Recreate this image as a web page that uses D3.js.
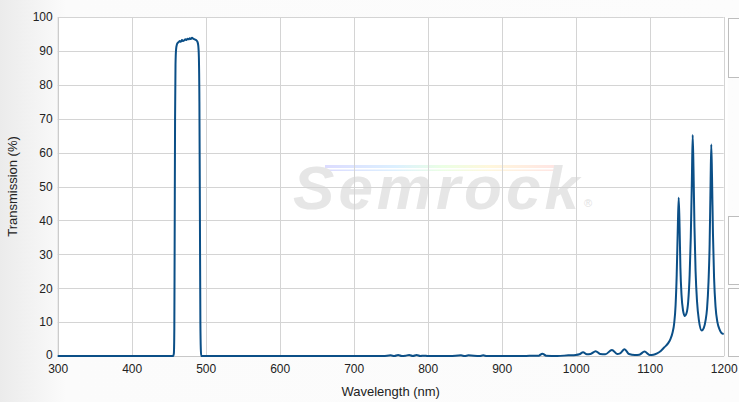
<!DOCTYPE html>
<html>
<head>
<meta charset="utf-8">
<script src="https://cdn.jsdelivr.net/npm/d3@7"></script>
<style>
html,body{margin:0;padding:0;background:#fff;}
svg{display:block;font-family:"Liberation Sans",Arial,sans-serif;}
</style>
</head>
<body>
<svg id="chart" width="739" height="402"></svg>
<script>
// ---- data ----
const xTicks = [300,400,500,600,700,800,900,1000,1100,1200];
const yTicks = [0,10,20,30,40,50,60,70,80,90,100];
const xTitle = "Wavelength (nm)";
const yTitle = "Transmission (%)";

const wavelength = [
  300,400,450,456,457,457.6,458,458.6,459.2,460,461,462,463.5,465,466.5,468,469.5,471,472.5,474,475.5,477,478.5,480,481.5,483,484.5,486,487.5,489,490,490.8,491.5,492.2,492.8,493.4,494,500,
  600,700,740,750,755,760,765,770,775,780,785,790,795,800,830,845,850,855,870,875,880,900,930,945,950,955,960,975,990,
  1000,1005,1010,1015,1020,1027,1033,1040,1049,1056,1060,1066,1072,1080,1086,1093,1100,1105,1110,1115,1120,1125,1128,
  1131,1133,1135,1136.5,1138,1139.2,1140.4,1141.5,1143,1145,1147.5,1150,1152,1154,1155.5,1157,1158.1,1159.2,1160.5,1162,1164,1166.5,1170.3,1173,1175.5,1177.5,1179.5,1181,1182.2,1183.2,1184.2,1185.5,1187,1189,1191.5,1194.5,1197,1200
];
const transmission = [
  0,0,0,0,0.8,8,30,70,86,90.5,91.8,92.3,92.6,92.9,92.7,93.2,92.9,93.1,93.4,93.2,93.6,93.4,93.7,93.5,93.9,93.6,93.5,93.3,93.1,92.6,91.5,88,75,40,10,2,0,0,
  0,0,0,0.2,0,0.3,0,0.1,0.3,0,0.3,0,0.1,0,0,0.2,0,0.2,0,0.2,0,0,0,0.1,0.1,0.7,0.1,0,0.2,
  0.3,0.5,1.1,0.5,0.6,1.4,0.6,0.5,1.8,0.6,0.8,2.0,0.6,0.3,0.4,1.3,0.3,0.4,0.8,1.5,2.6,3.8,5,
  7,9.5,15,24,38,46.7,38,26,18,13.5,11.8,12.8,16,24,35,52,65.2,55,38,25,16,10.5,7.5,8.2,10.5,14,22,33,50,62.4,53,36,23,14.5,10,7.8,6.8,6.5
];

// ---- layout ----
const W = 739, H = 402;
const m = {left:57.7, right:723.7, top:17, bottom:356};
const svg = d3.select("#chart");

const defs = svg.append("defs");
const bg = defs.append("linearGradient").attr("id","bgGrad").attr("x1","0").attr("x2","1").attr("y1","0").attr("y2","0");
bg.append("stop").attr("offset","0").attr("stop-color","#ebebeb");
bg.append("stop").attr("offset","0.09").attr("stop-color","#fbfbfb");
bg.append("stop").attr("offset","1").attr("stop-color","#fcfcfc");
const rb = defs.append("linearGradient").attr("id","rainbow").attr("x1","0").attr("x2","1");
[["0","#dcdcff"],["0.3","#dcf0ff"],["0.5","#ebffe4"],["0.7","#fff7dc"],["1","#ffe4e4"]].forEach(s=>rb.append("stop").attr("offset",s[0]).attr("stop-color",s[1]));

svg.append("rect").attr("width",W).attr("height",H).attr("fill","url(#bgGrad)");

const x = d3.scaleLinear().domain([300,1200]).range([m.left,m.right]);
const y = d3.scaleLinear().domain([0,100]).range([m.bottom,m.top]);

// plot area
svg.append("rect").attr("x",m.left).attr("y",m.top).attr("width",m.right-m.left+4).attr("height",m.bottom-m.top).attr("fill","#fff");

// right-hand partial panels
const panels = [[728,18,77],[728,216,284],[728,288,356]];
panels.forEach(p=>{
  svg.append("rect").attr("x",p[0]+0.5).attr("y",p[1]+0.5).attr("width",20).attr("height",p[2]-p[1]).attr("fill","#fff").attr("stroke","#bdbdbd");
});

// watermark
const wm = svg.append("g").attr("class","watermark");
wm.append("rect").attr("x",325).attr("y",165).attr("width",235).attr("height",3).attr("fill","url(#rainbow)");
wm.append("rect").attr("x",325).attr("y",169.5).attr("width",235).attr("height",1.5).attr("fill","url(#rainbow)");
wm.append("text").attr("x",438).attr("y",209).attr("text-anchor","middle")
  .attr("font-size",62).attr("font-weight","bold").attr("font-style","italic")
  .attr("fill","#e6e6e6").attr("letter-spacing",4).text("Semrock");
wm.append("text").attr("x",584).attr("y",207).attr("font-size",11).attr("fill","#e2e2e2").text("®");

// grid
const grid = svg.append("g").attr("stroke","#d4d4d4").attr("stroke-width",1);
yTicks.forEach(t=>{
  grid.append("line").attr("x1",m.left).attr("x2",m.right).attr("y1",Math.round(y(t))+0.5).attr("y2",Math.round(y(t))+0.5);
});
xTicks.forEach(t=>{
  grid.append("line").attr("x1",Math.round(x(t))+0.5).attr("x2",Math.round(x(t))+0.5).attr("y1",m.top).attr("y2",m.bottom);
});

// axes
const xAxis = d3.axisBottom(x).tickValues(xTicks).tickSize(0).tickPadding(8).tickFormat(d3.format("d"));
const gx = svg.append("g").attr("transform",`translate(0,${m.bottom})`).call(xAxis);
gx.select(".domain").attr("stroke","#c8c8c8");
gx.selectAll("text").attr("font-size",12).attr("fill","#222").attr("font-family","Liberation Sans, Arial, sans-serif");

const yAxis = d3.axisLeft(y).tickValues(yTicks).tickSize(0).tickPadding(5);
const gy = svg.append("g").attr("transform",`translate(${m.left},0)`).call(yAxis);
gy.select(".domain").attr("stroke","#c8c8c8");
gy.selectAll("text").attr("font-size",12).attr("fill","#222").attr("font-family","Liberation Sans, Arial, sans-serif");
gy.selectAll(".tick").filter(d=>d===0).select("text").attr("dy","0.2em");

// titles
svg.append("text").attr("x",(m.left+m.right)/2).attr("y",396).attr("text-anchor","middle")
  .attr("font-size",13).attr("fill","#222").text(xTitle);
svg.append("text").attr("transform",`translate(17,${(m.top+m.bottom)/2}) rotate(-90)`).attr("text-anchor","middle")
  .attr("font-size",13).attr("fill","#222").text(yTitle);

// curve
const data = wavelength.map((w,i)=>({w, t: transmission[i]}));
const line = d3.line().x(d=>x(d.w)).y(d=>y(d.t)).curve(d3.curveMonotoneX);
svg.append("path").datum(data).attr("d",line).attr("fill","none")
  .attr("stroke","#0b4f87").attr("stroke-width",2).attr("stroke-linejoin","round");
</script>
</body>
</html>
